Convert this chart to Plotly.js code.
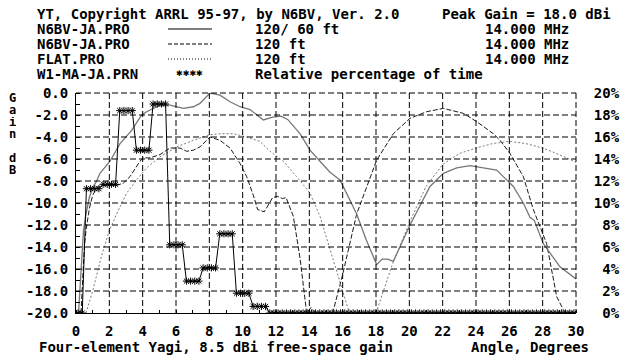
<!DOCTYPE html>
<html><head><meta charset="utf-8">
<script src="https://cdn.plot.ly/plotly-3.0.1.min.js"></script>
<style>html,body{margin:0;padding:0;background:#fff}#chart{width:625px;height:356px}</style>
</head><body><div id="chart"></div>
<script>
// 120/60 ft stack, N6BV terrain (solid)
const stackDeg = [0.15,0.3,0.45,0.6,0.8,1.0,1.24,1.44,2.04,2.64,3.34,3.94,4.24,5.04,5.64,6.44,7.04,7.44,8.04,8.64,9.24,9.84,10.44,11.24,11.8,12.3,12.7,13.44,14.04,14.64,15.24,15.84,16.44,16.84,17.4,18.04,18.37,18.7,19.04,20.04,21.24,22.04,22.84,23.64,24.44,25.24,25.64,26.24,26.84,27.24,27.5,28.04,29.04,30];
const stackDb  = [-20,-16,-12.5,-11,-9.5,-8.6,-8.0,-7.3,-6.2,-4.6,-3.4,-2.0,-1.7,-1.1,-1.1,-1.4,-1.25,-0.95,0,-0.2,-0.8,-1.25,-1.5,-2.45,-2.2,-2.1,-2.4,-3.7,-5.2,-6.2,-7.2,-7.9,-9.7,-11.0,-13.3,-15.6,-15.1,-15.1,-15.3,-12.0,-8.5,-7.3,-6.8,-6.6,-6.8,-7.0,-7.6,-8.5,-10.0,-11.3,-11.6,-13.7,-15.8,-16.9];
// 120 ft, N6BV terrain (dashed)
const terrDeg = [0.3,0.4,0.5,0.6,0.8,1.0,1.24,1.64,2.44,2.84,3.24,3.84,4.04,4.44,5.04,5.64,6.24,6.64,7.04,7.44,8.04,8.64,9.24,9.84,10.24,10.64,10.9,11.3,11.6,11.8,12.1,12.4,12.6,13.04,13.44,13.84,14.1,14.4,15.4,16.0,16.84,18.04,19.04,20.04,21.04,22.04,23.24,24.04,25.04,25.44,26.04,26.84,27.44,28.24,28.84,29.24,29.4,30];
const terrDb  = [-20,-17,-14,-12.5,-10.5,-9.3,-8.6,-8.4,-8.4,-8.2,-7.6,-6.2,-5.9,-5.9,-5.6,-5.0,-5.0,-5.3,-5.2,-4.9,-4.0,-4.3,-5.0,-6.4,-7.6,-9.3,-10.6,-10.8,-10.0,-9.5,-9.4,-9.6,-9.5,-11.2,-15,-20,-19.5,-20,-20,-16.5,-11.0,-6.1,-3.7,-2.3,-1.7,-1.4,-1.85,-2.6,-3.7,-4.3,-5.5,-7.6,-10.6,-13.7,-18.5,-19.7,-20,-20];
// 120 ft, flat ground (dotted)
const flatDeg = [0.6,1.0,1.5,2.0,2.5,3.04,3.64,4.24,5.04,6.04,7.04,8.04,8.64,9.44,10.24,11.04,11.64,12.44,13.24,14.04,14.64,15.2,16.0,16.4,18.0,19.0,20.0,21.0,22.0,23.0,24.0,25.0,26.0,27.0,28.0,29.0,30.0];
const flatDb  = [-20,-18,-15,-12.5,-10.8,-9.1,-7.9,-6.8,-5.8,-4.9,-4.3,-3.8,-3.7,-3.7,-4.0,-4.4,-5.3,-6.2,-7.6,-9.1,-11.2,-14,-18,-20,-20,-15.5,-11.8,-8.5,-6.5,-5.5,-5.0,-4.6,-4.4,-4.6,-5.0,-5.6,-6.3];
// W1-MA to JA elevation statistics, percent of time per 1-degree bin (0..30 deg)
const pctBins = [0,11.3,11.7,18.4,14.8,19.0,6.2,2.9,4.1,7.2,1.8,0.6,0,0,0,0,0,0,0,0,0,0,0,0,0,0,0,0,0,0,0];
const degTicks = [0,2,4,6,8,10,12,14,16,18,20,22,24,26,28,30];
const dbTicks = [-20,-18,-16,-14,-12,-10,-8,-6,-4,-2,0];
const dbLabels = ['-20.0','-18.0','-16.0','-14.0','-12.0','-10.0','-8.0','-6.0','-4.0','-2.0','0.0'];
const pctTicks = [0,2,4,6,8,10,12,14,16,18,20];
const pctLabels = ['\u00a00%','\u00a02%','\u00a04%','\u00a06%','\u00a08%','10%','12%','14%','16%','18%','20%'];

// histogram: four star marks per bin
const hx = [], hy = [];
pctBins.forEach((v, i) => {
  for (let k = 0; k < 4; k++) {
    const x = i - 0.5 + (k + 0.5) / 4;
    if (x >= 0 && x <= 30) { hx.push(x); hy.push(v); }
  }
});

const FONT = 'DejaVu Sans Mono, Liberation Mono, monospace';
const F = {family: FONT, size: 14, color: '#000', weight: 'bold'};
const L = 76, R = 576, T = 93, B = 313;
const px = v => (v - L) / (R - L);
const py = v => (B - v) / (B - T);
function ann(text, x, y, anchor) {
  return {text, x: px(x), y: py(y), xref: 'paper', yref: 'paper', xanchor: anchor || 'left', yanchor: 'middle', showarrow: false, font: F, borderpad: 0};
}
const rows = [14, 29, 44, 59, 74];
const annotations = [
  ann('YT, Copyright ARRL 95-97, by N6BV, Ver. 2.0', 36, rows[0]),
  ann('Peak Gain = 18.0 dBi', 441, rows[0]),
  ann('N6BV-JA.PRO', 36, rows[1]), ann('120/ 60 ft', 254, rows[1]), ann('14.000 MHz', 484, rows[1]),
  ann('N6BV-JA.PRO', 36, rows[2]), ann('120 ft', 254, rows[2]), ann('14.000 MHz', 484, rows[2]),
  ann('FLAT.PRO', 36, rows[3]), ann('120 ft', 254, rows[3]), ann('14.000 MHz', 484, rows[3]),
  ann('W1-MA-JA.PRN', 36, rows[4]), ann('Relative percentage of time', 254, rows[4]),
  Object.assign(ann('\u2731\u2731\u2731\u2731', 175, rows[4]), {font: {family: 'DejaVu Sans', size: 8, color: '#000'}}),
  ann('Four-element Yagi, 8.5 dBi free-space gain', 38, 347),
  ann('Angle, Degrees', 590, 347, 'right')
];
const gl = [['G',98],['a',110],['i',122],['n',134],['d',158],['B',170]];
gl.forEach(([t, y]) => annotations.push(Object.assign(ann(t, 12, y, 'center'), {height: 10, font: Object.assign({}, F, {size: 12})})));

const GRID = {color: '#000', width: 1, dash: '6px,3px'};
const shapes = [
  {type:'line', xref:'paper', yref:'paper', x0:px(168), x1:px(212), y0:py(rows[1]), y1:py(rows[1]), line:{color:'#000', width:1}},
  {type:'line', xref:'paper', yref:'paper', x0:px(168), x1:px(212), y0:py(rows[2]), y1:py(rows[2]), line:{color:'#000', width:1, dash:'4px,2px'}},
  {type:'line', xref:'paper', yref:'paper', x0:px(168), x1:px(212), y0:py(rows[3]), y1:py(rows[3]), line:{color:'#000', width:1, dash:'1px,2px'}},
  // dashed frame on the top and right edges of the plot area
  {type:'line', xref:'paper', yref:'paper', x0:0, x1:1, y0:1, y1:1, line:GRID, layer:'above'},
  {type:'line', xref:'paper', yref:'paper', x0:1, x1:1, y0:1, y1:0, line:GRID, layer:'above'}
];
// dashed grid at the axis tick values
degTicks.filter(v => v > 0 && v < 30).forEach(v => shapes.push({type:'line', xref:'x', yref:'paper', x0:v, x1:v, y0:1, y1:0, line:GRID, layer:'above'}));
dbTicks.filter(v => v > -20 && v < 0).forEach(v => shapes.push({type:'line', xref:'paper', yref:'y', x0:0, x1:1, y0:v, y1:v, line:GRID, layer:'above'}));

const traces = [
  {x: flatDeg, y: flatDb, mode: 'lines', line: {color: '#7a7a7a', width: 1, dash: '2px,2px'}},
  {x: terrDeg, y: terrDb, mode: 'lines', line: {color: '#1a1a1a', width: 1, dash: '5px,2px'}},
  {x: stackDeg, y: stackDb, mode: 'lines', line: {color: '#777', width: 1.3}},
  {x: hx, y: hy, xaxis: 'x', yaxis: 'y2', mode: 'lines+markers',
   line: {color: '#000', width: 1}, marker: {symbol: 'asterisk-open', size: 6, color: '#000', line: {color: '#000', width: 1}}}
];

const layout = {
  width: 625, height: 356, showlegend: false,
  margin: {l: L, r: 625 - R, t: T, b: 356 - B, pad: 0},
  paper_bgcolor: '#ffffff', plot_bgcolor: 'rgba(0,0,0,0)',
  xaxis: {range: [0, 30], tickmode: 'array', tickvals: degTicks, showgrid: false,
          zeroline: false, showline: true, linecolor: '#000', linewidth: 1, ticks: 'outside', ticklen: 5, tickcolor: 'rgba(0,0,0,0)', tickfont: F,
          minor: {tickmode: 'linear', tick0: 0, dtick: 1, ticks: 'inside', ticklen: 3, tickcolor: '#000'}},
  yaxis: {range: [-20, 0], tickmode: 'array', tickvals: dbTicks, ticktext: dbLabels, showgrid: false,
          zeroline: false, showline: true, linecolor: '#000', linewidth: 1, ticks: 'outside', ticklen: 4, tickcolor: 'rgba(0,0,0,0)', tickfont: F,
          minor: {tickmode: 'linear', tick0: -20, dtick: 1, ticks: 'inside', ticklen: 4, tickcolor: '#000'}},
  yaxis2: {range: [0, 20], overlaying: 'y', side: 'right', tickmode: 'array', tickvals: pctTicks, ticktext: pctLabels,
           showgrid: false, zeroline: false, showline: false, ticks: 'outside', ticklen: 14, tickcolor: 'rgba(0,0,0,0)', tickfont: F},
  annotations, shapes
};
Plotly.newPlot('chart', traces, layout, {staticPlot: true, displayModeBar: false});
</script></body></html>
